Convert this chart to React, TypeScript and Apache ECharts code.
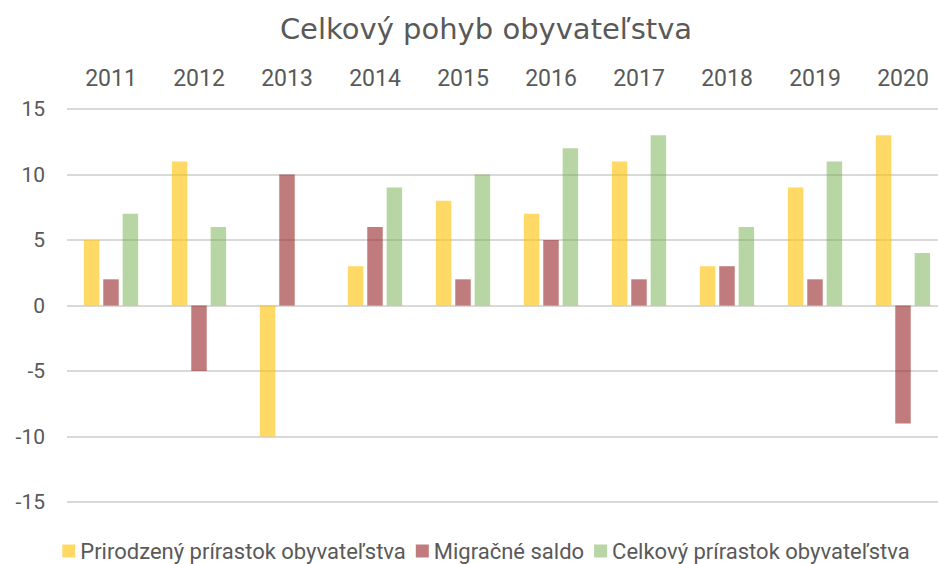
import React, { useEffect, useRef } from "react";
import * as echarts from "echarts";

const years = ["2011", "2012", "2013", "2014", "2015", "2016", "2017", "2018", "2019", "2020"];
const prirodzeny = [5, 11, -10, 3, 8, 7, 11, 3, 9, 13];
const migracne = [2, -5, 10, 6, 2, 5, 2, 3, 2, -9];
const celkovy = [7, 6, 0, 9, 10, 12, 13, 6, 11, 4];
const seriesNames = ["Prirodzený prírastok obyvateľstva", "Migračné saldo", "Celkový prírastok obyvateľstva"];
const title = "Celkový pohyb obyvateľstva";

const FONT = "Roboto, 'Open Sans', sans-serif";
const TITLE_FONT = "'DejaVu Sans', sans-serif";
const TEXT = "#595959";

export default function App() {
  const ref = useRef<HTMLDivElement>(null);
  useEffect(() => {
    document.body.style.margin = "0";
    if (!ref.current) return;
    const chart = echarts.init(ref.current, null, { renderer: "svg" });
    const colors = ["rgba(255,192,0,0.6)", "rgba(150,37,37,0.6)", "rgba(112,173,71,0.5)"];
    const data = [prirodzeny, migracne, celkovy];
    chart.setOption({
      animation: false,
      backgroundColor: "#ffffff",
      title: {
        text: title,
        left: "center",
        top: 9,
        textStyle: { fontFamily: TITLE_FONT, fontSize: 29, fontWeight: "normal", color: TEXT },
      },
      legend: {
        top: 535,
        left: "center",
        itemWidth: 13,
        itemHeight: 13,
        itemGap: 10,
        icon: "rect",
        textStyle: { fontFamily: FONT, fontSize: 22, color: TEXT },
        data: seriesNames,
      },
      grid: { left: 67, right: 25, top: 109, bottom: 62 },
      xAxis: {
        type: "category",
        position: "top",
        data: years,
        axisLine: { show: false, onZero: false },
        axisTick: { show: false },
        axisLabel: { fontFamily: FONT, fontSize: 23, color: TEXT, margin: 19 },
      },
      yAxis: {
        type: "value",
        min: -15,
        max: 15,
        interval: 5,
        axisLine: { show: false },
        axisTick: { show: false },
        axisLabel: { fontFamily: FONT, fontSize: 21, color: TEXT, margin: 22 },
        splitLine: { lineStyle: { color: "#d9d9d9", width: 2 } },
      },
      series: seriesNames.map((name, i) => ({
        name,
        type: "bar",
        data: data[i],
        barWidth: 15.5,
        barGap: "25%",
        itemStyle: { color: colors[i] },
      })),
    });
    return () => chart.dispose();
  }, []);
  return (
    <div style={{ width: 938, height: 564, overflow: "hidden", position: "relative" }}>
      <div ref={ref} style={{ width: 972, height: 564 }} />
    </div>
  );
}
